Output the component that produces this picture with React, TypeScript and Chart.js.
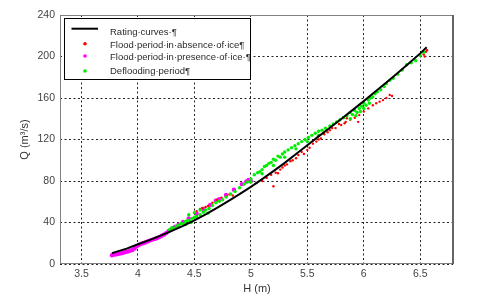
import React, { useEffect, useRef } from "react";
import { Chart, registerables } from "chart.js";

Chart.register(...registerables);

// Rating curve
const ratingH = [3.77, 3.9, 4.0, 4.1, 4.2, 4.3, 4.4, 4.5, 4.6, 4.7, 4.8, 4.9, 5.0, 5.1, 5.2,
  5.3, 5.4, 5.5, 5.6, 5.7, 5.8, 5.9, 6.0, 6.1, 6.2, 6.3, 6.4, 6.5, 6.557];
const ratingQ = [10.5, 14.8, 19, 23, 27.3, 32, 36.8, 42, 47.8, 54, 60.5, 67.3, 74.3, 81.8, 89.5,
  97.5, 106, 114.5, 123, 131.3, 139.8, 148.3, 157, 166, 175, 184.2, 193.5, 203, 209];

// Flood period in absence of ice (red)
const absenceH = [4.52, 4.55, 4.57, 4.6, 4.62, 4.66, 4.7, 4.74, 4.78, 4.81, 4.84,
  5.03, 5.05, 5.1, 5.14, 5.18, 5.2, 5.22, 5.24, 5.26, 5.28, 5.3, 5.32, 5.35, 5.37, 5.4,
  5.42, 5.45, 5.47, 5.5, 5.52, 5.55, 5.58, 5.6, 5.62, 5.65, 5.68, 5.7, 5.72, 5.75, 5.78,
  5.8, 5.83, 5.84, 5.85, 5.88, 5.9, 5.92, 5.95, 5.96, 6.0, 6.04, 6.08, 6.11, 6.14, 6.17,
  6.2, 6.23, 6.25, 6.53, 6.54, 6.55, 6.56];
const absenceQ = [51, 53, 54, 55, 56, 59, 62, 64, 65, 67, 66,
  86, 78, 80, 83, 86, 75, 88, 87.5, 91, 93, 95, 96, 99, 100, 102,
  105, 108, 106, 110, 112, 116, 118, 120, 121, 125, 127, 129, 131, 131, 135,
  134, 135.6, 137, 140.5, 139, 144, 141, 137, 143.5, 147, 150, 153, 155, 156.5, 158,
  160, 163, 162, 202, 200, 204.5, 206];

// Flood period in presence of ice (magenta)
const presenceH = [3.77, 3.79, 3.81, 3.83, 3.85, 3.87, 3.89, 3.91, 3.93, 3.95, 3.97, 3.99,
  4.01, 4.03, 4.05, 4.07, 4.09, 4.11, 4.13, 4.15, 4.17, 4.19, 4.21, 4.23, 4.25, 4.27,
  4.29, 4.31, 4.33, 4.36, 4.4, 4.45, 4.52, 4.58, 4.64, 4.69, 4.72, 4.78, 4.85, 4.92,
  4.96, 4.98, 5.0];
const presenceQ = [8.5, 9, 9.3, 9.8, 10.2, 10.8, 11.5, 12, 12.8, 13.5, 15, 17,
  18.5, 19.5, 20.3, 21, 22, 22.8, 23.5, 24.2, 25, 26, 27.3, 28.3, 29.8, 31.5,
  33, 34.5, 36, 38, 40.5, 44, 48.5, 53, 57, 61, 62.5, 66.5, 71.5, 77,
  79.5, 81, 80];

// Deflooding period (green)
const defloodH = [4.28, 4.3, 4.32, 4.34, 4.36, 4.38, 4.4, 4.42, 4.44, 4.46, 4.48, 4.5,
  4.52, 4.55, 4.58, 4.6, 4.63, 4.66, 4.69, 4.72, 4.75, 4.78, 4.82, 4.86, 4.9, 4.94,
  4.97, 5.0, 5.03, 5.06, 5.08, 5.1, 5.12, 5.14, 5.16, 5.18, 5.2, 5.22, 5.24, 5.26,
  5.28, 5.3, 5.33, 5.36, 5.39, 5.42, 5.45, 5.48, 5.51, 5.54, 5.57, 5.6, 5.63, 5.66,
  5.7, 5.73, 5.76, 5.79, 5.82, 5.85, 5.88, 5.9, 5.92, 5.94, 5.96, 5.98, 6.0, 6.02,
  6.04, 6.06, 6.08, 6.1, 6.12, 6.15, 6.18, 6.2, 6.23, 6.26, 6.3, 6.34, 6.38, 6.42,
  6.46, 6.5, 6.53, 5.88, 5.93, 5.97, 6.0, 6.05, 5.0, 5.1, 5.2, 5.3, 5.4, 5.5, 5.6,
  4.42, 4.45, 4.47, 4.5, 4.55, 4.62];
const defloodQ = [33, 35, 34, 36.5, 37.5, 39, 38.5, 41, 42, 41.5, 44, 45,
  45.5, 47.5, 50, 52, 53.5, 56.5, 59, 60.5, 62, 64.5, 67.5, 70, 73.5, 77,
  79, 82, 86, 88, 89, 91, 94, 95, 97, 98, 101, 100, 104, 103,
  106, 108, 110, 112, 114, 116, 118, 120, 122, 124, 126, 128, 129, 131,
  133, 135, 137, 139, 141, 143, 146, 144, 148, 146, 150, 152, 155, 153,
  158, 160, 161, 164, 166, 168, 171, 174, 177, 179, 183, 187, 192, 194,
  196, 201, 204, 140, 143, 147, 150, 155, 79, 87, 95, 103, 111, 118, 124,
  38, 47.5, 40, 49.5, 52, 49];

const xTicks = [3.5, 4, 4.5, 5, 5.5, 6, 6.5];
const yTicks = [0, 40, 80, 120, 160, 200, 240];
const legendLabels = [
  "Rating·curves·¶",
  "Flood·period·in·absence·of·ice¶",
  "Flood·period·in·presence·of·ice·¶",
  "Deflooding·period¶",
];
const xTitle = "H (m)";
const yTitle = "Q (m³/s)";

const FONT = "'Liberation Sans', Arial, sans-serif";

const pts = (hs: number[], qs: number[]) => hs.map((h, i) => ({ x: h, y: qs[i] }));

const overlayPlugin = {
  id: "overlay",
  afterDraw(chart: any) {
    const { ctx, chartArea } = chart;
    const { left, right, top, bottom } = chartArea;
    ctx.save();
    ctx.setLineDash([]);
    ctx.strokeStyle = "#808080";
    ctx.lineWidth = 1;
    ctx.strokeRect(left + 0.5, top + 0.5, right - left - 1, bottom - top - 1);
    ctx.strokeStyle = "#666";
    ctx.lineWidth = 2;
    ctx.beginPath();
    ctx.moveTo(right, top);
    ctx.lineTo(right, bottom);
    ctx.stroke();

    ctx.fillStyle = "#333";
    ctx.font = `11px ${FONT}`;
    ctx.textAlign = "center";
    ctx.textBaseline = "middle";
    ctx.fillText(xTitle, (left + right) / 2 + 0.5, 289);
    ctx.save();
    ctx.translate(25, (top + bottom) / 2);
    ctx.rotate(-Math.PI / 2);
    ctx.fillText(yTitle, 0, 0);
    ctx.restore();

    const bx = 64.5, by = 18.5, bw = 186, bh = 61;
    ctx.fillStyle = "#fff";
    ctx.fillRect(bx, by, bw, bh);
    ctx.strokeStyle = "#000";
    ctx.lineWidth = 1;
    ctx.strokeRect(bx, by, bw, bh);
    const markY = [28.7, 43.7, 56, 71];
    const textY = [32.7, 45.3, 57.2, 71.8];
    const colors = ["#000", "#ff0000", "#ff00ff", "#00ee00"];
    ctx.strokeStyle = "#000";
    ctx.lineWidth = 2;
    ctx.beginPath();
    ctx.moveTo(71.5, markY[0]);
    ctx.lineTo(98, markY[0]);
    ctx.stroke();
    for (let i = 1; i < 4; i++) {
      ctx.fillStyle = colors[i];
      ctx.beginPath();
      ctx.arc(85, markY[i], 1.8, 0, Math.PI * 2);
      ctx.fill();
    }
    ctx.fillStyle = "#2a2a2a";
    ctx.font = `9.5px ${FONT}`;
    ctx.textAlign = "left";
    for (let i = 0; i < 4; i++) {
      ctx.fillText(legendLabels[i], 110, textY[i]);
    }
    ctx.restore();
  },
};

export default function App() {
  const canvasRef = useRef<HTMLCanvasElement | null>(null);

  useEffect(() => {
    document.body.style.margin = "0";
    const canvas = canvasRef.current;
    if (!canvas) return;
    const chart = new Chart(canvas, {
      type: "scatter",
      data: {
        datasets: [
          {
            label: legendLabels[0],
            data: pts(ratingH, ratingQ),
            showLine: true,
            borderColor: "#000",
            borderWidth: 2,
            pointRadius: 0,
            tension: 0,
            order: 1,
          },
          {
            label: legendLabels[3],
            data: pts(defloodH, defloodQ),
            backgroundColor: "#00ee00",
            borderWidth: 0,
            pointRadius: 1.7,
            order: 2,
          },
          {
            label: legendLabels[1],
            data: pts(absenceH, absenceQ),
            backgroundColor: "#ff0000",
            borderWidth: 0,
            pointRadius: 1.2,
            order: 3,
          },
          {
            label: legendLabels[2],
            data: pts(presenceH, presenceQ),
            backgroundColor: "#ff00ff",
            borderWidth: 0,
            pointRadius: 2.2,
            order: 4,
          },
        ],
      },
      options: {
        responsive: false,
        animation: false,
        devicePixelRatio: 1,
        layout: { padding: { top: 15, right: 27, left: 0, bottom: 0 } },
        plugins: { legend: { display: false }, tooltip: { enabled: false } },
        scales: {
          x: {
            type: "linear",
            min: 3.31,
            max: 6.79,
            afterBuildTicks: (s: any) => {
              s.ticks = xTicks.map((v) => ({ value: v }));
            },
            afterFit: (s: any) => {
              s.height = 33;
            },
            grid: { color: "#222", lineWidth: 1, drawTicks: false },
            border: { display: false, dash: [2, 2.5] },
            ticks: {
              color: "#444",
              padding: 4,
              font: { family: FONT, size: 10.5 },
              maxRotation: 0,
              callback: (v: any) => String(v),
            },
          },
          y: {
            type: "linear",
            min: 0,
            max: 240,
            afterBuildTicks: (s: any) => {
              s.ticks = yTicks.map((v) => ({ value: v }));
            },
            afterFit: (s: any) => {
              s.width = 60;
            },
            grid: { color: "#222", lineWidth: 1, drawTicks: false },
            border: { display: false, dash: [2, 2.5] },
            ticks: {
              color: "#444",
              padding: 5,
              font: { family: FONT, size: 10.5 },
              callback: (v: any) => String(v),
            },
          },
        },
      },
      plugins: [overlayPlugin],
    });
    return () => chart.destroy();
  }, []);

  return (
    <div style={{ width: 480, height: 297, position: "relative", background: "#fff" }}>
      <canvas ref={canvasRef} width={480} height={297} />
    </div>
  );
}
